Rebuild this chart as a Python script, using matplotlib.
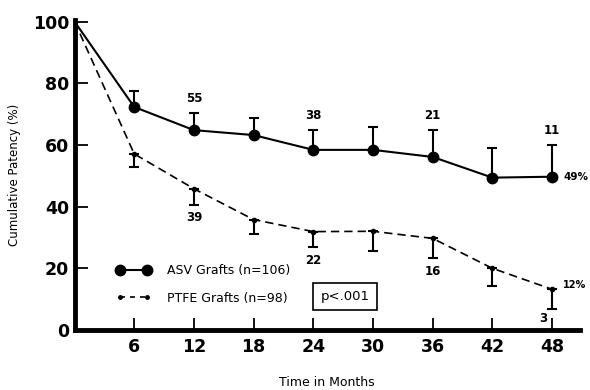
import matplotlib
matplotlib.use("Agg")
import matplotlib.pyplot as plt
import numpy as np
from matplotlib.lines import Line2D

months = [0, 6, 12, 18, 24, 30, 36, 42, 48]
asv = [100, 72.3, 64.8, 63.2, 58.4, 58.4, 56.1, 49.4, 49.7]
asv_err = [0, 5.1, 5.5, 5.5, 6.4, 7.4, 8.7, 9.6, 10.3]
ptfe = [100, 57.1, 45.8, 35.8, 31.9, 32.0, 29.7, 20.0, 13.2]
ptfe_err = [0, 4.2, 5.2, 4.8, 5.1, 6.5, 6.5, 5.8, 6.4]
asv_n = {12: "55", 24: "38", 36: "21", 48: "11"}
ptfe_n = {12: "39", 24: "22", 36: "16", 48: "3"}
xticks = [6, 12, 18, 24, 30, 36, 42, 48]
yticks = [0, 20, 40, 60, 80, 100]

fig = plt.figure(figsize=(5.9, 3.9), dpi=100)
ax = fig.add_axes([0.1263, 0.1538, 0.8567, 0.7949])
ax.set_xlim(0, 50.8)
ax.set_ylim(0, 100.5)

# ASV
ax.plot(months, asv, color="black", lw=1.5, zorder=3)
ax.plot(months[1:], asv[1:], "o", color="black", ms=7.5, zorder=4)
ax.errorbar(months[1:], asv[1:], yerr=[np.zeros(8), asv_err[1:]], fmt="none",
            ecolor="black", elinewidth=1.5, capsize=3.5, capthick=1.5, zorder=3)
# PTFE
ax.plot(months, ptfe, color="black", lw=1.2, ls=(0, (5, 3)), zorder=3)
ax.plot(months[1:], ptfe[1:], "o", color="black", ms=3, zorder=4)
ax.errorbar(months[1:], ptfe[1:], yerr=[ptfe_err[1:], np.zeros(8)], fmt="none",
            ecolor="black", elinewidth=1.5, capsize=3.5, capthick=1.5, zorder=3)

for m, t in asv_n.items():
    i = months.index(m)
    ax.text(m, asv[i] + asv_err[i] + 2.5, t, ha="center", va="bottom",
            fontsize=8.5, fontweight="bold")
for m, t in ptfe_n.items():
    i = months.index(m)
    if m == 48:
        ax.text(m - 0.5, ptfe[i] - ptfe_err[i] - 0.8, t, ha="right", va="top",
                fontsize=8.5, fontweight="bold")
    else:
        ax.text(m, ptfe[i] - ptfe_err[i] - 2.0, t, ha="center", va="top",
                fontsize=8.5, fontweight="bold")

ax.text(49.1, asv[-1], "49%", ha="left", va="center", fontsize=7.5, fontweight="bold")
ax.text(49.1, ptfe[-1] + 1.5, "12%", ha="left", va="center", fontsize=7, fontweight="bold")

# legend
h1 = Line2D([], [], color="black", lw=1.5, marker="o", ms=7.5)
h2 = Line2D([], [], color="black", lw=1.2, ls=(0, (3, 3)), marker="o", ms=2.5,
            markevery=[1])
ax.legend([h1, h2], ["ASV Grafts (n=106)", "PTFE Grafts (n=98)"],
          loc="lower left", bbox_to_anchor=(0.06, 0.045), frameon=False,
          numpoints=2, handlelength=2.8, handletextpad=1.3, labelspacing=1.15,
          prop={"size": 9})

ax.text(27.2, 10.8, "p<.001", ha="center", va="center", fontsize=9.5,
        bbox=dict(boxstyle="square,pad=0.55", fc="white", ec="black", lw=1.2))

for s in ["top", "right"]:
    ax.spines[s].set_visible(False)
for s in ["left", "bottom"]:
    ax.spines[s].set_linewidth(3.5)
ax.set_xticks(xticks)
ax.set_yticks(yticks)
ax.tick_params(direction="in", length=9, width=1.3, labelsize=12.5, pad=6)
for lab in ax.get_xticklabels() + ax.get_yticklabels():
    lab.set_fontweight("bold")
ax.tick_params(axis="y", pad=4)
ax.set_xlabel("Time in Months", fontsize=9, labelpad=14)
ax.set_ylabel("Cumulative Patency (%)", fontsize=8.5, labelpad=8)

fig.savefig("out.png", dpi=100)
